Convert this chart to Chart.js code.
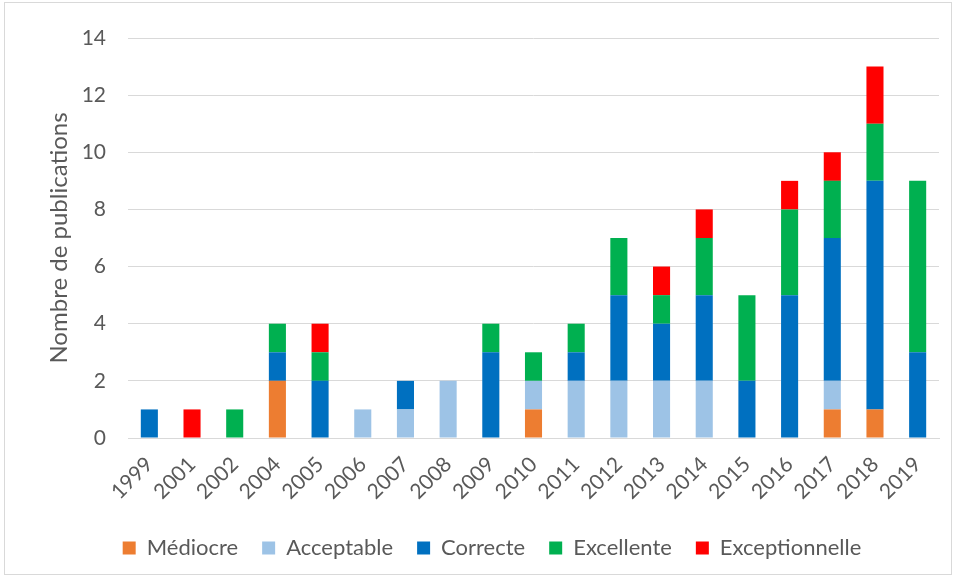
<!DOCTYPE html>
<html>
<head>
<meta charset="utf-8">
<script src="https://cdn.jsdelivr.net/npm/chart.js@4.4.0/dist/chart.umd.min.js"></script>
<style>
  html, body { margin: 0; padding: 0; background: #fff; }
  #wrap { position: absolute; left: 4px; top: 2px; width: 948px; height: 573px; border: 1px solid #D9D9D9; box-sizing: border-box; }
  canvas { display: block; }
</style>
</head>
<body>
<div id="wrap"><canvas id="chart" width="946" height="571"></canvas></div>
<script>
// annees et nombre de publications par niveau
const years = ['1999', '2001', '2002', '2004', '2005', '2006', '2007', '2008', '2009', '2010',
               '2011', '2012', '2013', '2014', '2015', '2016', '2017', '2018', '2019'];
const mediocre       = [0, 0, 0, 2, 0, 0, 0, 0, 0, 1, 0, 0, 0, 0, 0, 0, 1, 1, 0];
const acceptable     = [0, 0, 0, 0, 0, 1, 1, 2, 0, 1, 2, 2, 2, 2, 0, 0, 1, 0, 0];
const correcte       = [1, 0, 0, 1, 2, 0, 1, 0, 3, 0, 1, 3, 2, 3, 2, 5, 5, 8, 3];
const excellente     = [0, 0, 1, 1, 1, 0, 0, 0, 1, 1, 1, 2, 1, 2, 3, 3, 2, 2, 6];
const exceptionnelle = [0, 1, 0, 0, 1, 0, 0, 0, 0, 0, 0, 0, 1, 1, 0, 1, 1, 2, 0];
const yTicks = [0, 2, 4, 6, 8, 10, 12, 14];

const textColor = '#595959';
const gridColor = '#D9D9D9';
const fontFam = 'Lato, "Open Sans", sans-serif';

function serie(label, data, color) {
    return {
        label: label,
        data: data.map(v => v === 0 ? null : v),
        backgroundColor: color,
        borderWidth: 0,
        barPercentage: 0.8,
        categoryPercentage: 0.5
    };
}

const ctx = document.getElementById('chart').getContext('2d');
new Chart(ctx, {
    type: 'bar',
    data: {
        labels: years,
        datasets: [
            serie('Médiocre', mediocre, '#ED7D31'),
            serie('Acceptable', acceptable, '#9DC3E6'),
            serie('Correcte', correcte, '#0070C0'),
            serie('Excellente', excellente, '#00B050'),
            serie('Exceptionnelle', exceptionnelle, '#FF0000')
        ]
    },
    options: {
        responsive: false,
        animation: false,
        layout: { padding: { left: 40, right: 12, top: 35, bottom: 5 } },
        plugins: {
            tooltip: { enabled: false },
            legend: {
                position: 'bottom',
                labels: {
                    color: textColor,
                    font: { family: fontFam, size: 22 },
                    boxWidth: 13,
                    boxHeight: 13,
                    padding: 24
                }
            }
        },
        scales: {
            x: {
                stacked: true,
                grid: { display: false },
                border: { color: gridColor, width: 1 },
                ticks: {
                    color: textColor,
                    font: { family: fontFam, size: 21 },
                    maxRotation: 45,
                    minRotation: 45,
                    padding: 6
                },
                afterFit: s => { s.height = 75; }
            },
            y: {
                stacked: true,
                min: 0,
                max: 14,
                afterBuildTicks: s => { s.ticks = yTicks.map(v => ({ value: v })); },
                grid: { color: gridColor, lineWidth: 1, drawTicks: false },
                border: { display: false },
                ticks: {
                    color: textColor,
                    font: { family: fontFam, size: 21 },
                    padding: 22
                },
                title: {
                    display: true,
                    text: 'Nombre de publications',
                    color: textColor,
                    font: { family: fontFam, size: 24 },
                    padding: 0
                },
                afterFit: s => { s.width = 83; }
            }
        }
    }
});
</script>
</body>
</html>
